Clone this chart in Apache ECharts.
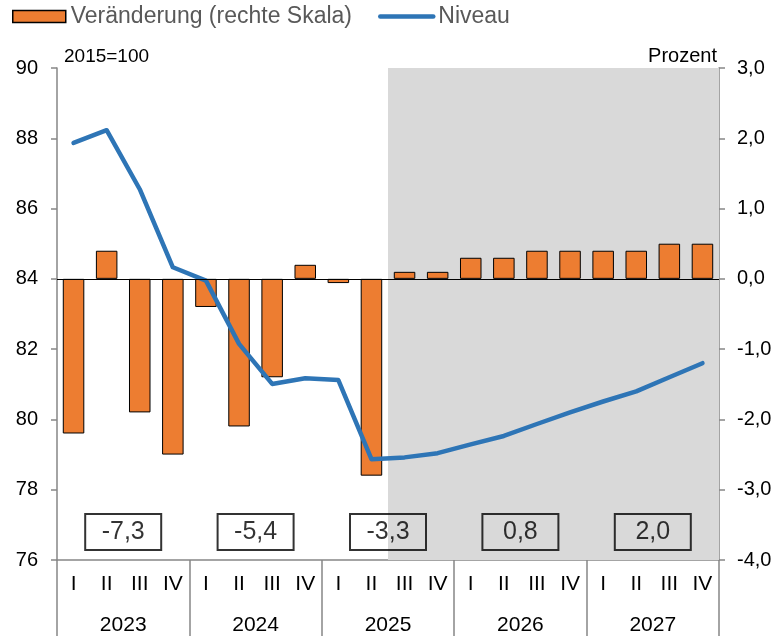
<!DOCTYPE html>
<html>
<head>
<meta charset="utf-8">
<script src="https://cdn.jsdelivr.net/npm/echarts@6/dist/echarts.min.js"></script>
<style>
  html, body { margin: 0; padding: 0; background: #fff; }
  #chart { width: 775px; height: 636px; }
</style>
</head>
<body>
<div id="chart"></div>
<script>
// Quartale und Jahre
const quarters = ['I', 'II', 'III', 'IV', 'I', 'II', 'III', 'IV', 'I', 'II', 'III', 'IV', 'I', 'II', 'III', 'IV', 'I', 'II', 'III', 'IV']
const years = ['2023', '2024', '2025', '2026', '2027']

// Veränderung zum Vorquartal (rechte Skala, Prozent)
const change = [-2.2, 0.4, -1.9, -2.5, -0.4, -2.1, -1.4, 0.2, -0.06, -2.8, 0.1, 0.1, 0.3, 0.3, 0.4, 0.4, 0.4, 0.4, 0.5, 0.5]
// Niveau (2015=100)
const level = [87.87, 88.23, 86.55, 84.33, 83.95, 82.15, 81.01, 81.17, 81.12, 78.87, 78.92, 79.04, 79.29, 79.53, 79.87, 80.2, 80.51, 80.8, 81.2, 81.6]
// Jahresveränderung (Kästchen)
const annual = [-7.3, -5.4, -3.3, 0.8, 2.0]
// Prognosezeitraum (Quartalsgrenzen)
const forecastStart = 10
const forecastEnd = 20

// Höhe der Kästchen auf der linken Skala
const annualLevel = 76.8

const fmt = v => v.toFixed(1).replace('.', ',')
const font = '"Liberation Sans", Arial, sans-serif'
const axisGray = '#868686'
const blue = '#2E75B6'

const chart = echarts.init(document.getElementById('chart'))

chart.setOption({
  animation: false,
  textStyle: { fontFamily: font, color: '#000' },
  legend: {
    left: 7,
    top: 0,
    itemWidth: 53,
    itemHeight: 12,
    itemGap: 26,
    textStyle: { fontSize: 23, color: '#595959', fontFamily: font },
    data: [
      { name: 'Veränderung (rechte Skala)', icon: 'rect', itemStyle: { borderColor: '#000', borderWidth: 1.5 } },
      { name: 'Niveau', itemStyle: { opacity: 0 }, lineStyle: { color: blue, width: 4.5, cap: 'round' } }
    ]
  },
  grid: { left: 57, right: 56, top: 68, bottom: 76 },
  xAxis: [
    {
      type: 'category',
      data: quarters,
      position: 'bottom',
      boundaryGap: true,
      axisLine: { onZero: false, lineStyle: { color: axisGray, width: 1.5 } },
      axisTick: { show: false },
      axisLabel: { interval: 0, fontSize: 21, color: '#000', margin: 14 }
    },
    {
      type: 'category',
      data: years,
      position: 'bottom',
      boundaryGap: true,
      axisLine: { show: false, onZero: false },
      axisTick: { show: true, interval: 0, length: 76, lineStyle: { color: axisGray, width: 1.5 } },
      axisLabel: { interval: 0, fontSize: 21, color: '#000', margin: 55 }
    },
    {
      type: 'value',
      min: 0,
      max: 20,
      show: false
    }
  ],
  yAxis: [
    {
      type: 'value',
      min: 76,
      max: 90,
      interval: 2,
      name: '2015=100',
      nameLocation: 'end',
      nameGap: 2,
      nameTextStyle: { align: 'left', fontSize: 19, color: '#000', padding: [0, 0, 0, 7] },
      axisLine: { show: true, lineStyle: { color: axisGray, width: 1.5 } },
      axisTick: { show: true, length: 6, lineStyle: { color: axisGray, width: 1.5 } },
      axisLabel: { fontSize: 20, color: '#000', margin: 19 },
      splitLine: { show: false }
    },
    {
      type: 'value',
      min: -4,
      max: 3,
      interval: 1,
      position: 'right',
      name: 'Prozent',
      nameLocation: 'end',
      nameGap: 2,
      nameTextStyle: { align: 'right', fontSize: 20, color: '#000', padding: [0, 2, 0, 0] },
      axisLine: { show: true, lineStyle: { color: axisGray, width: 1.5 } },
      axisTick: { show: true, length: 6, lineStyle: { color: axisGray, width: 1.5 } },
      axisLabel: { fontSize: 20, color: '#000', margin: 18, formatter: fmt },
      splitLine: { show: false }
    }
  ],
  series: [
    {
      name: 'forecast',
      type: 'line',
      xAxisIndex: 2,
      yAxisIndex: 0,
      data: [],
      silent: true,
      z: 0,
      markArea: {
        silent: true,
        itemStyle: { color: '#d9d9d9' },
        data: [[{ xAxis: forecastStart }, { xAxis: forecastEnd }]]
      }
    },
    {
      name: 'Veränderung (rechte Skala)',
      type: 'bar',
      xAxisIndex: 0,
      yAxisIndex: 1,
      data: change,
      barWidth: '65%',
      itemStyle: { color: '#ED7D31', borderColor: '#000', borderWidth: 1 },
      z: 2,
      markLine: {
        silent: true,
        symbol: 'none',
        label: { show: false },
        lineStyle: { color: '#000', width: 1.2, type: 'solid' },
        data: [{ yAxis: 0 }]
      }
    },
    {
      name: 'Niveau',
      type: 'line',
      xAxisIndex: 0,
      yAxisIndex: 0,
      data: level,
      symbol: 'none',
      lineStyle: { color: blue, width: 4.5, cap: 'round', join: 'round' },
      itemStyle: { color: blue },
      z: 3
    },
    {
      name: 'annual',
      type: 'scatter',
      xAxisIndex: 1,
      yAxisIndex: 0,
      data: annual.map((v, i) => [years[i], annualLevel, v]),
      symbolSize: 0,
      silent: true,
      z: 4,
      label: {
        show: true,
        position: 'inside',
        formatter: p => fmt(p.value[2]),
        fontSize: 25,
        color: '#000',
        width: 76,
        align: 'center',
        lineHeight: 26,
        padding: [5, 0, 5, 0],
        borderColor: '#000',
        borderWidth: 2
      }
    }
  ]
})
</script>
</body>
</html>
